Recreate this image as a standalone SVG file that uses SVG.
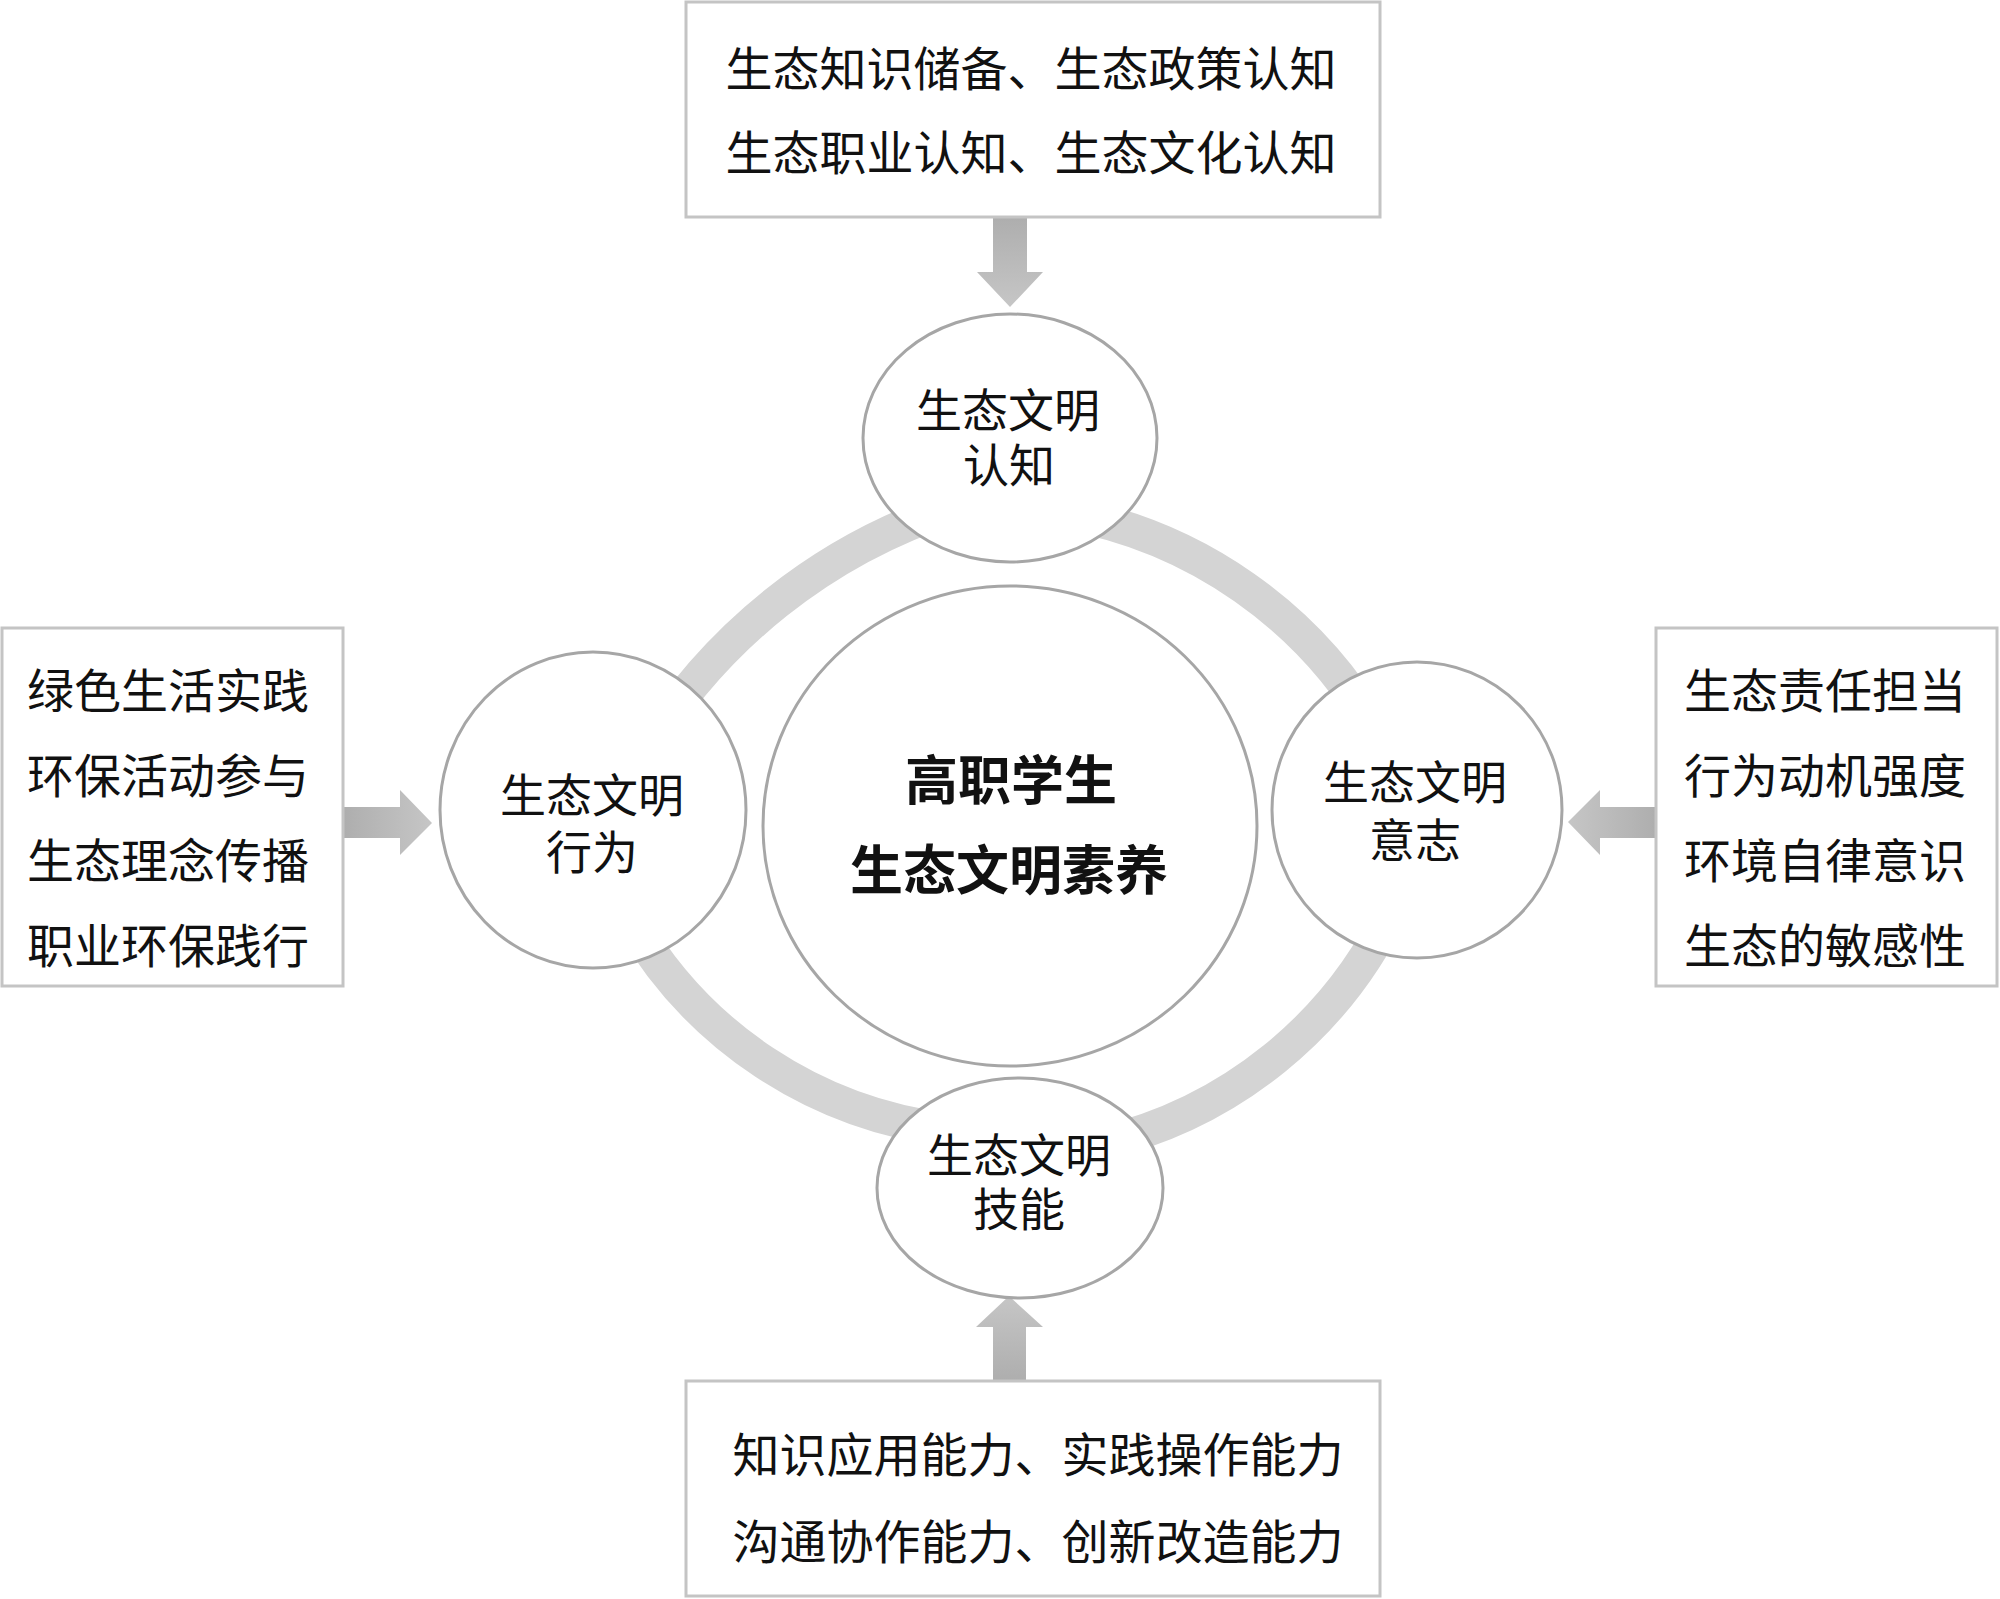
<svg xmlns="http://www.w3.org/2000/svg" width="2000" height="1599" viewBox="0 0 2000 1599">
<style>
.box{fill:#fff;stroke:#c4c4c4;stroke-width:3}
.node{fill:#fff;stroke:#a6a6a6;stroke-width:3}
.t{font-family:"Liberation Serif","Noto Sans CJK SC",serif;font-size:46px;fill:#111;text-anchor:middle}
.bt{font-size:47px}
.ct{font-size:53px;font-weight:bold}
.ring{fill:none;stroke:#d4d4d4;stroke-width:34}
</style>
<defs>
<linearGradient id="gd" x1="0" y1="0" x2="0" y2="1"><stop offset="0" stop-color="#aeaeae"/><stop offset="1" stop-color="#c6c6c6"/></linearGradient>
<linearGradient id="gu" x1="0" y1="1" x2="0" y2="0"><stop offset="0" stop-color="#aeaeae"/><stop offset="1" stop-color="#c6c6c6"/></linearGradient>
<linearGradient id="gr" x1="0" y1="0" x2="1" y2="0"><stop offset="0" stop-color="#aeaeae"/><stop offset="1" stop-color="#c6c6c6"/></linearGradient>
<linearGradient id="gl" x1="1" y1="0" x2="0" y2="0"><stop offset="0" stop-color="#aeaeae"/><stop offset="1" stop-color="#c6c6c6"/></linearGradient>
</defs>
<rect width="2000" height="1599" fill="#fff"/>
<g id="connectors">
<path class="ring" d="M 643.1 754.5 A 568 568 0 0 1 954.5 506.8"/>
<path class="ring" d="M 1064.1 512.8 A 450 450 0 0 1 1375.7 731"/>
<path class="ring" d="M 1394.4 905 A 433 433 0 0 1 1099.4 1143.9"/>
<path class="ring" d="M 947.2 1129.8 A 425 425 0 0 1 630.9 920.5"/>
<polygon fill="url(#gd)" points="993,218 1027,218 1027,272 1043,272 1010,307 977,272 993,272"/>
<polygon fill="url(#gu)" points="993,1380 1026,1380 1026,1327 1043,1327 1009,1296 976,1327 993,1327"/>
<polygon fill="url(#gr)" points="344,807 400,807 400,790 432,823 400,855 400,838 344,838"/>
<polygon fill="url(#gl)" points="1656,807 1600,807 1600,790 1568,822 1600,855 1600,838 1656,838"/>
</g>
<g id="center">
<ellipse class="node" cx="1010" cy="826" rx="247" ry="240"/>
<text class="t ct" x="1011" y="800">高职学生</text>
<text class="t ct" x="1009" y="890">生态文明素养</text>
</g>
<g id="cognition">
<ellipse class="node" cx="1010" cy="438" rx="147" ry="124"/>
<text class="t" x="1008" y="427">生态文明</text>
<text class="t" x="1009" y="482">认知</text>
</g>
<g id="behavior">
<ellipse class="node" cx="593" cy="810" rx="153" ry="158"/>
<text class="t" x="592" y="812">生态文明</text>
<text class="t" x="592" y="869">行为</text>
</g>
<g id="will">
<ellipse class="node" cx="1417" cy="810" rx="145" ry="148"/>
<text class="t" x="1415" y="799">生态文明</text>
<text class="t" x="1415" y="857">意志</text>
</g>
<g id="skill">
<ellipse class="node" cx="1020" cy="1188" rx="143" ry="110"/>
<text class="t" x="1019" y="1172">生态文明</text>
<text class="t" x="1019" y="1226">技能</text>
</g>
<g id="box-top">
<rect class="box" x="686" y="2" width="694" height="215"/>
<text class="t bt" x="1031" y="86">生态知识储备、生态政策认知</text>
<text class="t bt" x="1031" y="170">生态职业认知、生态文化认知</text>
</g>
<g id="box-left">
<rect class="box" x="2" y="628" width="341" height="358"/>
<text class="t bt" x="168" y="708">绿色生活实践</text>
<text class="t bt" x="168" y="793">环保活动参与</text>
<text class="t bt" x="168" y="878">生态理念传播</text>
<text class="t bt" x="168" y="963">职业环保践行</text>
</g>
<g id="box-right">
<rect class="box" x="1656" y="628" width="341" height="358"/>
<text class="t bt" x="1825" y="708">生态责任担当</text>
<text class="t bt" x="1825" y="793">行为动机强度</text>
<text class="t bt" x="1825" y="878">环境自律意识</text>
<text class="t bt" x="1825" y="963">生态的敏感性</text>
</g>
<g id="box-bottom">
<rect class="box" x="686" y="1381" width="694" height="215"/>
<text class="t bt" x="1038" y="1472">知识应用能力、实践操作能力</text>
<text class="t bt" x="1038" y="1559">沟通协作能力、创新改造能力</text>
</g>
</svg>
